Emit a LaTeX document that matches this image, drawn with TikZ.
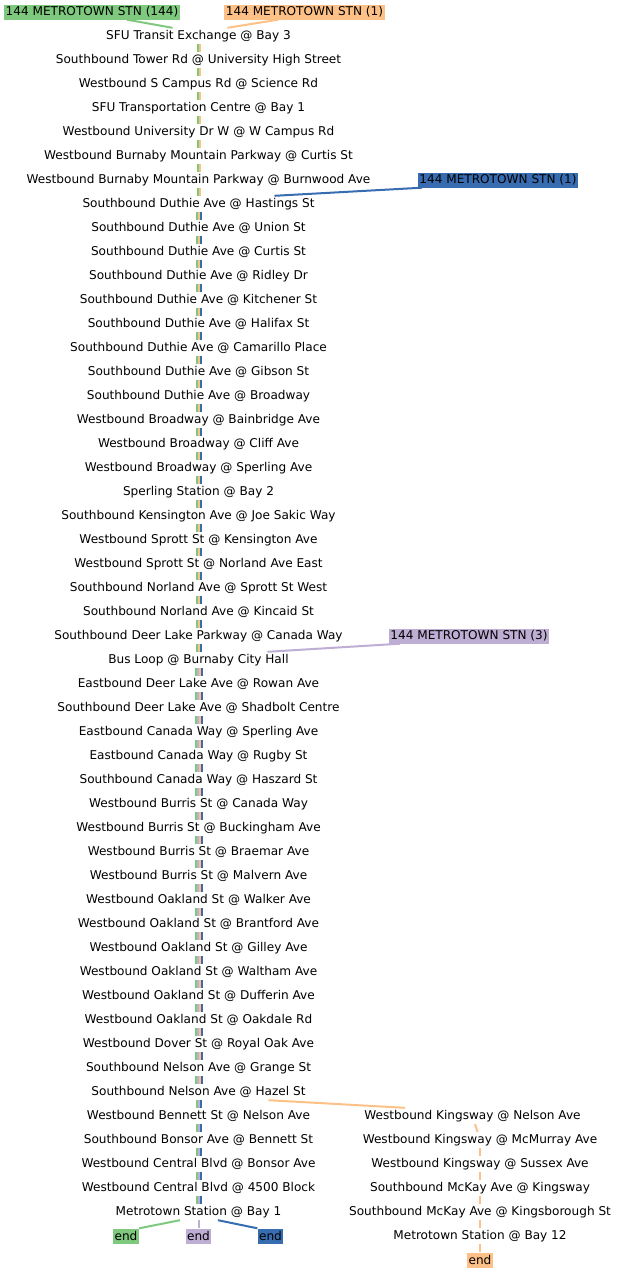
\documentclass[tikz,border=0pt]{standalone}
\usepackage{fontspec}
\setmainfont{DejaVu Sans}
\definecolor{cg}{HTML}{7FC97F}
\definecolor{co}{HTML}{FDC086}
\definecolor{cb}{HTML}{386CB0}
\definecolor{cp}{HTML}{BEAED4}
\tikzset{
  stopnode/.style={inner xsep=1pt, inner ysep=0pt, minimum height=16pt, font=\fontsize{12.1}{14}\selectfont},
  labelbox/.style={inner xsep=1.5pt, inner ysep=0pt, minimum height=15pt, font=\fontsize{12.1}{14}\selectfont},
  endbox/.style={labelbox},
  ln/.style={line width=2pt},
}
\begin{document}
\begin{tikzpicture}[x=1pt,y=-1pt]
\useasboundingbox (0,0) rectangle (618,1272);
\begin{scope}[yshift=-1pt]
% left column stops
\foreach \t [count=\i] in {
SFU Transit Exchange @ Bay 3,
Southbound Tower Rd @ University High Street,
Westbound S Campus Rd @ Science Rd,
SFU Transportation Centre @ Bay 1,
Westbound University Dr W @ W Campus Rd,
Westbound Burnaby Mountain Parkway @ Curtis St,
Westbound Burnaby Mountain Parkway @ Burnwood Ave,
Southbound Duthie Ave @ Hastings St,
Southbound Duthie Ave @ Union St,
Southbound Duthie Ave @ Curtis St,
Southbound Duthie Ave @ Ridley Dr,
Southbound Duthie Ave @ Kitchener St,
Southbound Duthie Ave @ Halifax St,
Southbound Duthie Ave @ Camarillo Place,
Southbound Duthie Ave @ Gibson St,
Southbound Duthie Ave @ Broadway,
Westbound Broadway @ Bainbridge Ave,
Westbound Broadway @ Cliff Ave,
Westbound Broadway @ Sperling Ave,
Sperling Station @ Bay 2,
Southbound Kensington Ave @ Joe Sakic Way,
Westbound Sprott St @ Kensington Ave,
Westbound Sprott St @ Norland Ave East,
Southbound Norland Ave @ Sprott St West,
Southbound Norland Ave @ Kincaid St,
Southbound Deer Lake Parkway @ Canada Way,
Bus Loop @ Burnaby City Hall,
Eastbound Deer Lake Ave @ Rowan Ave,
Southbound Deer Lake Ave @ Shadbolt Centre,
Eastbound Canada Way @ Sperling Ave,
Eastbound Canada Way @ Rugby St,
Southbound Canada Way @ Haszard St,
Westbound Burris St @ Canada Way,
Westbound Burris St @ Buckingham Ave,
Westbound Burris St @ Braemar Ave,
Westbound Burris St @ Malvern Ave,
Westbound Oakland St @ Walker Ave,
Westbound Oakland St @ Brantford Ave,
Westbound Oakland St @ Gilley Ave,
Westbound Oakland St @ Waltham Ave,
Westbound Oakland St @ Dufferin Ave,
Westbound Oakland St @ Oakdale Rd,
Westbound Dover St @ Royal Oak Ave,
Southbound Nelson Ave @ Grange St,
Southbound Nelson Ave @ Hazel St,
Westbound Bennett St @ Nelson Ave,
Southbound Bonsor Ave @ Bennett St,
Westbound Central Blvd @ Bonsor Ave,
Westbound Central Blvd @ 4500 Block,
Metrotown Station @ Bay 1}
  \node[stopnode] (s\i) at (198.5,{11+24*\i}) {\t};
% right column stops
\node[stopnode] (r1) at (472.5,1115) {Westbound Kingsway @ Nelson Ave};
\node[stopnode] (r2) at (480,1139) {Westbound Kingsway @ McMurray Ave};
\node[stopnode] (r3) at (480,1163) {Westbound Kingsway @ Sussex Ave};
\node[stopnode] (r4) at (480,1187) {Southbound McKay Ave @ Kingsway};
\node[stopnode] (r5) at (480,1211) {Southbound McKay Ave @ Kingsborough St};
\node[stopnode] (r6) at (480,1235) {Metrotown Station @ Bay 12};
% route labels
\node[labelbox, fill=cg] (lg) at (92,11) {144 METROTOWN STN (144)};
\node[labelbox, fill=co] (lo) at (304.5,11) {144 METROTOWN STN (1)};
\node[labelbox, fill=cb] (lb) at (498,179) {144 METROTOWN STN (1)};
\node[labelbox, fill=cp] (lp) at (469,635) {144 METROTOWN STN (3)};
% end boxes
\node[endbox, fill=cg] (ge) at (126,1235) {end};
\node[endbox, fill=cp] (pe) at (198.5,1235) {end};
\node[endbox, fill=cb] (be) at (270.5,1235) {end};
\node[endbox, fill=co] (oe) at (480,1259) {end};
% parallel route segments
\foreach \a/\b/\o in {1/7/-1, 8/26/-2, 27/44/-3, 45/49/-2}
  \foreach \i in {\a,...,\b} {
    \pgfmathtruncatemacro\j{\i+1}
    \draw[ln, cg] ([xshift=\o pt]s\i.south) -- ([xshift=\o pt]s\j.north);
  }
\foreach \a/\b/\o in {1/7/1, 8/26/0, 27/44/1}
  \foreach \i in {\a,...,\b} {
    \pgfmathtruncatemacro\j{\i+1}
    \draw[ln, co] ([xshift=\o pt]s\i.south) -- ([xshift=\o pt]s\j.north);
  }
\foreach \a/\b/\o in {8/26/2, 27/44/3, 45/49/2}
  \foreach \i in {\a,...,\b} {
    \pgfmathtruncatemacro\j{\i+1}
    \draw[ln, cb] ([xshift=\o pt]s\i.south) -- ([xshift=\o pt]s\j.north);
  }
\foreach \a/\b/\o in {27/44/-1, 45/49/0}
  \foreach \i in {\a,...,\b} {
    \pgfmathtruncatemacro\j{\i+1}
    \draw[ln, cp] ([xshift=\o pt]s\i.south) -- ([xshift=\o pt]s\j.north);
  }
% label connectors
\draw[ln, cg] ([xshift=35pt]lg.south) -- ([xshift=-26pt]s1.north);
\draw[ln, co] ([xshift=-26.5pt]lo.south) -- ([xshift=29pt]s1.north);
\draw[ln, cb] ([xshift=-76pt]lb.south) -- ([xshift=76pt]s8.north);
\draw[ln, cp] ([xshift=-69pt]lp.south) -- ([xshift=69pt]s27.north);
% orange branch
\draw[ln, co] ([xshift=70pt]s45.south) -- ([xshift=-67.5pt]r1.north);
\draw[ln, co] (r1) -- (r2);
\draw[ln, co] (r2) -- (r3);
\draw[ln, co] (r3) -- (r4);
\draw[ln, co] (r4) -- (r5);
\draw[ln, co] (r5) -- (r6);
\draw[ln, co] (r6) -- (oe);
% ends at Metrotown Bay 1
\draw[ln, cg] ([xshift=-18.5pt]s50.south) -- (ge.north east);
\draw[ln, cp] (s50.south) -- (pe.north);
\draw[ln, cb] ([xshift=19.5pt]s50.south) -- (be.north west);
\end{scope}
\end{tikzpicture}
\end{document}
